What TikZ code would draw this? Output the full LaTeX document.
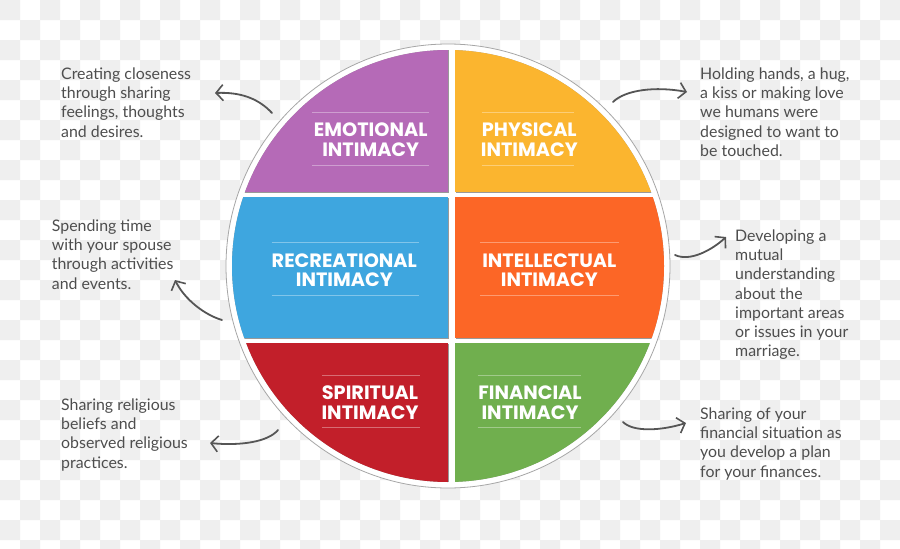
\documentclass[tikz,border=0pt]{standalone}
\usepackage{fontspec}
\setmainfont{Lato}
\newfontfamily\labelfont{Poppins}
\usetikzlibrary{arrows.meta}
\definecolor{checker}{RGB}{239,239,239}
\definecolor{cpurple}{RGB}{181,106,183}
\definecolor{cyellow}{RGB}{251,181,47}
\definecolor{cblue}{RGB}{62,166,223}
\definecolor{corange}{RGB}{252,102,38}
\definecolor{cred}{RGB}{194,31,42}
\definecolor{cgreen}{RGB}{112,175,78}
\definecolor{ctext}{RGB}{78,78,78}
\definecolor{carrow}{RGB}{85,85,85}
\tikzset{
  lbl/.style={text=white, align=center, inner sep=0pt,
    font=\labelfont\bfseries\fontsize{19.3}{19.6}\selectfont},
  sepline/.style={draw=white, draw opacity=0.35, line width=0.8pt},
  side/.style={text=ctext, align=left, anchor=north west, inner sep=0pt,
    font=\fontsize{15.9}{19.2}\selectfont},
  hand/.style={draw=carrow, line width=1.8pt, line cap=round,
    -{Straight Barb[length=7pt,width=16pt,line width=1.6pt]}},
}
\begin{document}
\begin{tikzpicture}[x=1pt,y=-1pt]
\useasboundingbox (0,0) rectangle (900,549);
% checkerboard background
\fill[white] (0,0) rectangle (900,549);
\fill[checker] \foreach \i in {0,2,...,44} {\foreach \j in {0,2,...,26} {
   (\i*20,\j*20) rectangle ++(20,20) (\i*20+20,\j*20+20) rectangle ++(20,20)}};
% circle ring
\node[circle, minimum size=444pt, inner sep=0pt, fill=white, draw=black!35, line width=0.8pt] (ring) at (448,266) {};
\begin{scope}
  \clip (448,266) circle [radius=216pt];
  \fill[black!40] (201,41) rectangle (449,193);
  \fill[black!40] (456,41) rectangle (701,193);
  \fill[black!40] (201,198) rectangle (449,339);
  \fill[black!40] (456,198) rectangle (701,339);
  \fill[black!40] (201,344) rectangle (449,491);
  \fill[black!40] (456,344) rectangle (701,491);
  \fill[cpurple] (200,40) rectangle (448,192);
  \fill[cyellow] (455,40) rectangle (700,192);
  \fill[cblue] (200,197) rectangle (448,338);
  \fill[corange] (455,197) rectangle (700,338);
  \fill[cred] (200,343) rectangle (448,490);
  \fill[cgreen] (455,343) rectangle (700,490);
\end{scope}
% labels
\node[lbl] (emo) at (370.7,139.7) {EMOTIONAL\\INTIMACY};
\node[lbl] (phy) at (529.3,139.7) {PHYSICAL\\INTIMACY};
\node[lbl] (rec) at (344.3,270.3) {RECREATIONAL\\INTIMACY};
\node[lbl] (int) at (549.3,270) {INTELLECTUAL\\INTIMACY};
\node[lbl] (spi) at (370,402.5) {SPIRITUAL\\INTIMACY};
\node[lbl] (fin) at (530,402.5) {FINANCIAL\\INTIMACY};
% separator lines
\draw[sepline] (312,112.7) -- (429,112.7) (312,165.7) -- (429,165.7);
\draw[sepline] (481.7,112.7) -- (574,112.7) (481.7,165.7) -- (574,165.7);
\draw[sepline] (271.7,242.7) -- (418.7,242.7) (271.7,295.3) -- (418.7,295.3);
\draw[sepline] (480,242.7) -- (619,242.7) (480,295.3) -- (619,295.3);
\draw[sepline] (322,375.3) -- (420,375.3) (322,427.7) -- (420,427.7);
\draw[sepline] (477.7,375.3) -- (581.3,375.3) (477.7,427.7) -- (581.3,427.7);
% side texts
\node[side] (t1) at (61,67.5) {Creating closeness\\through sharing\\feelings, thoughts\\and desires.};
\node[side] (t2) at (700,67.5) {Holding hands, a hug,\\a kiss or making love\\we humans were\\designed to want to\\be touched.};
\node[side] (t3) at (51.7,219.5) {Spending time\\with your spouse\\through activities\\and events.};
\node[side] (t4) at (735,229.5) {Developing a\\mutual\\understanding\\about the\\important areas\\or issues in your\\marriage.};
\node[side] (t5) at (61,398.5) {Sharing religious\\beliefs and\\observed religious\\practices.};
\node[side] (t6) at (700,407.5) {Sharing of your\\financial situation as\\you develop a plan\\for your finances.};
% arrow end points
\coordinate (a1s) at (272,113); \coordinate (a1e) at (215,93);
\coordinate (a2s) at (613,102); \coordinate (a2e) at (687,92);
\coordinate (a3s) at (222,320); \coordinate (a3e) at (175,280);
\coordinate (a4s) at (675,255); \coordinate (a4e) at (726,237);
\coordinate (a5s) at (278,430); \coordinate (a5e) at (210,443);
\coordinate (a6s) at (623,422); \coordinate (a6e) at (686,423);
\draw[hand] (a1s) .. controls (258,98) and (240,92) .. (a1e);
\draw[hand] (a2s) .. controls (625,90) and (655,86) .. (a2e);
\draw[hand] (a3s) .. controls (205,315) and (185,300) .. (a3e);
\draw[hand] (a4s) .. controls (690,262) and (712,250) .. (a4e);
\draw[hand] (a5s) .. controls (268,442) and (240,446) .. (a5e);
\draw[hand] (a6s) .. controls (633,432) and (660,431) .. (a6e);
\end{tikzpicture}
\end{document}
